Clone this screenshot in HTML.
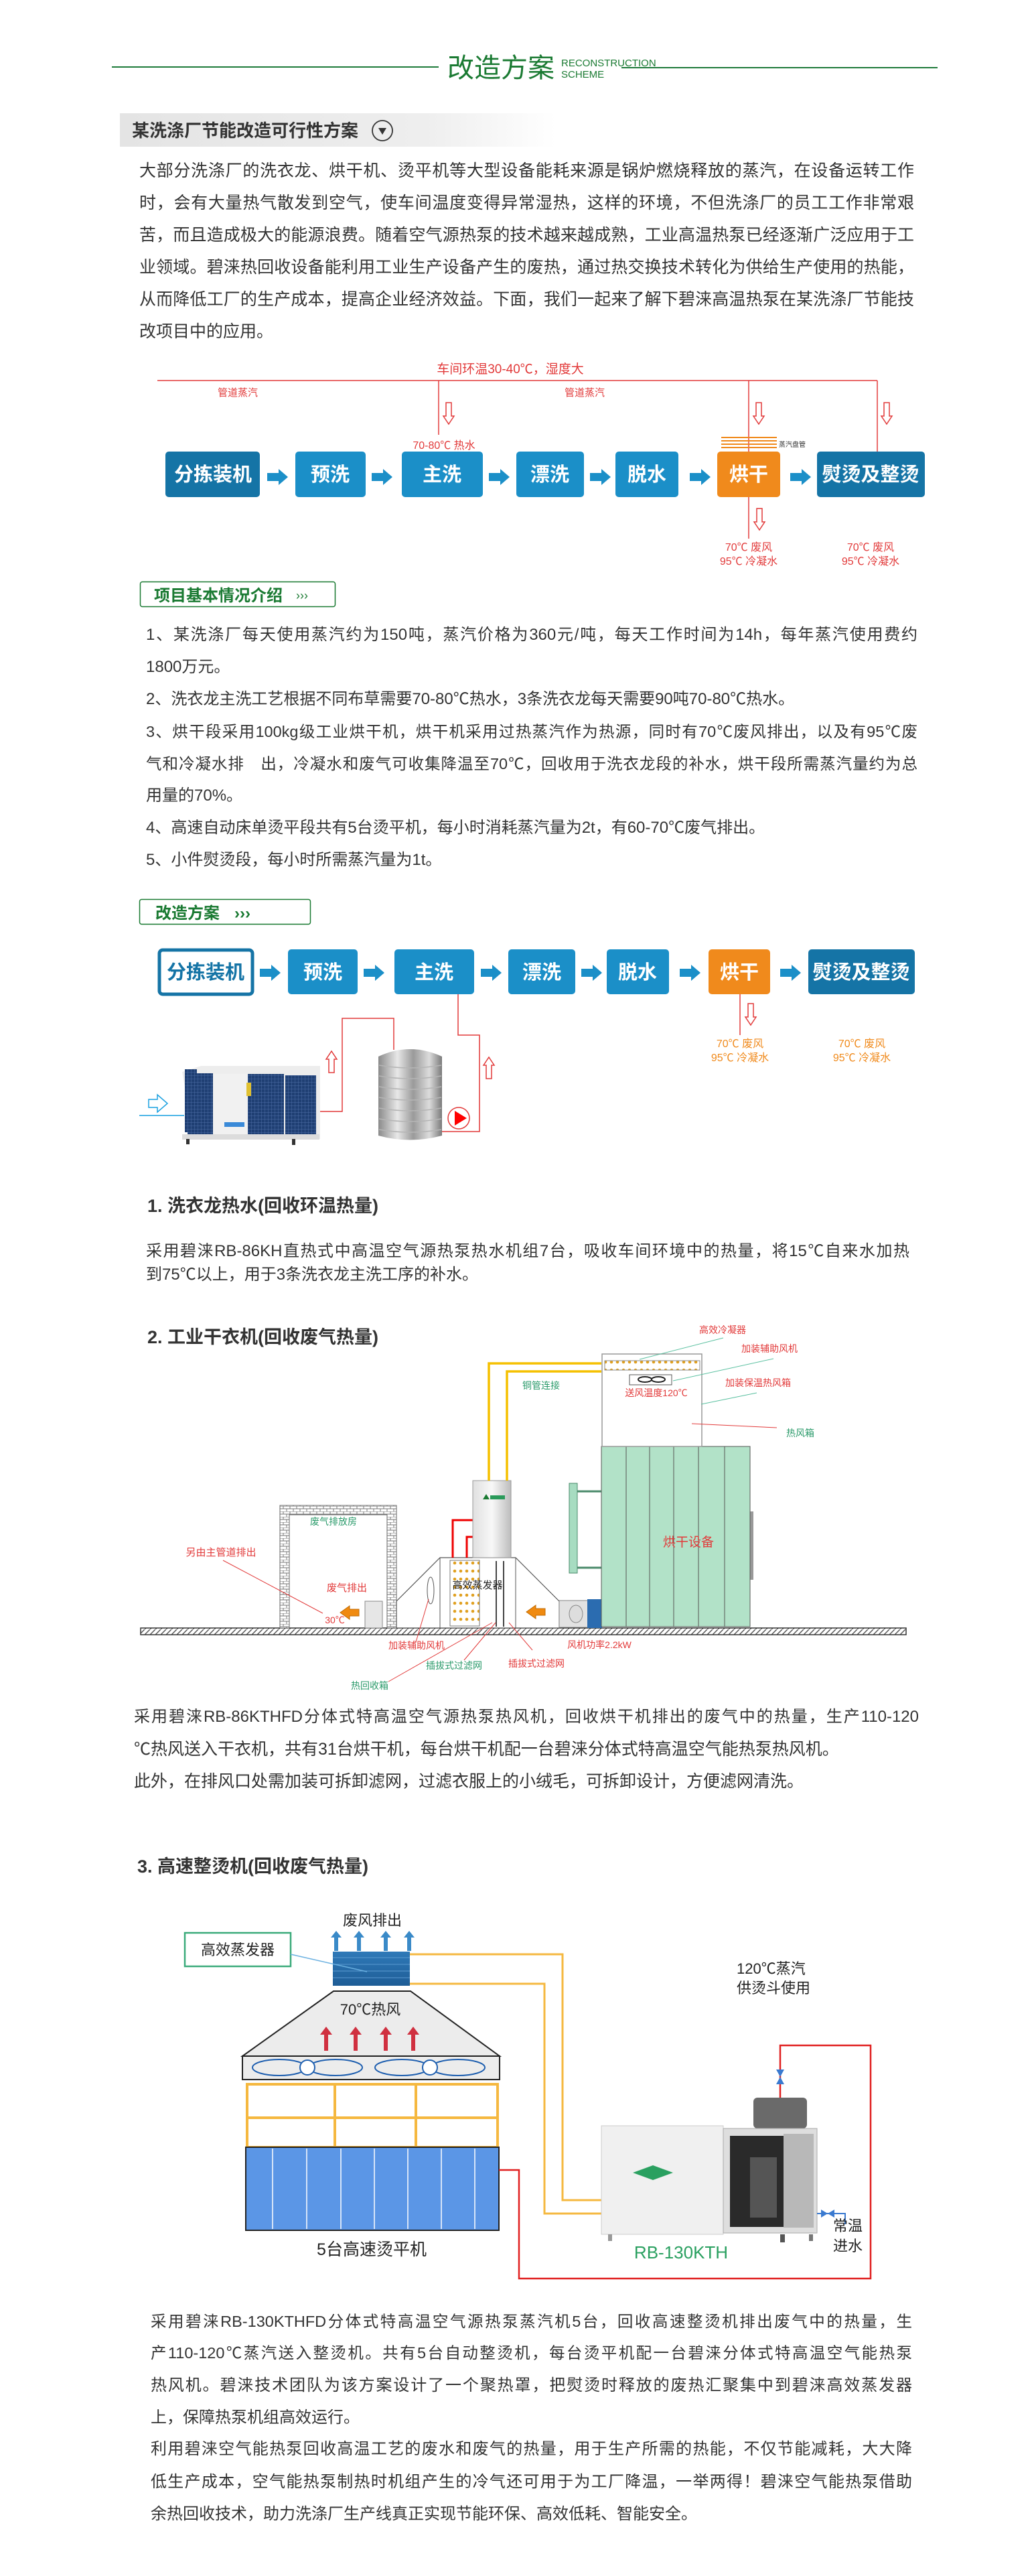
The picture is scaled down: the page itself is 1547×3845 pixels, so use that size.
<!DOCTYPE html>
<html><head><meta charset="utf-8">
<style>
html,body{margin:0;padding:0;background:#fff;}
body{width:1547px;height:3845px;position:relative;overflow:hidden;font-family:"Liberation Sans","Noto Sans CJK SC",sans-serif;color:#333;}
.l{position:absolute;white-space:nowrap;line-height:30px;height:30px;}
.j{text-align:justify;text-align-last:justify;white-space:normal;}
.p25{font-size:25px;}
.p24{font-size:24px;}
.p23{font-size:23.5px;}
.h{position:absolute;font-weight:bold;font-size:27px;color:#333;line-height:34px;white-space:nowrap;}
svg{position:absolute;left:0;top:0;}
</style></head><body>
<svg width="1547" height="3845" viewBox="0 0 1547 3845" font-family="Liberation Sans, Noto Sans CJK SC, sans-serif">
<defs>
<linearGradient id="gb" x1="0" x2="1" y1="0" y2="0"><stop offset="0" stop-color="#e4e4e4"/><stop offset="0.7" stop-color="#eeeeee"/><stop offset="1" stop-color="#ffffff"/></linearGradient>
<linearGradient id="tank" x1="0" x2="1"><stop offset="0" stop-color="#8a8a8a"/><stop offset="0.3" stop-color="#e8e8e8"/><stop offset="0.55" stop-color="#9a9a9a"/><stop offset="0.8" stop-color="#dcdcdc"/><stop offset="1" stop-color="#7a7a7a"/></linearGradient>
<linearGradient id="ev" x1="0" x2="1"><stop offset="0" stop-color="#e0e0e0"/><stop offset="0.5" stop-color="#f8f8f8"/><stop offset="1" stop-color="#bdbdbd"/></linearGradient>
<linearGradient id="coil" x1="0" x2="0" y1="0" y2="1"><stop offset="0" stop-color="#2f79b8"/><stop offset="1" stop-color="#1e5d96"/></linearGradient>
<pattern id="hatch" width="8" height="8" patternUnits="userSpaceOnUse"><rect width="8" height="8" fill="#fff"/><path d="M0 8 L8 0" stroke="#555" stroke-width="1.5"/></pattern>
<pattern id="brick" width="10" height="8" patternUnits="userSpaceOnUse"><rect width="10" height="8" fill="#fff"/><path d="M0 0H10M0 4H10M3 0V4M8 4V8" stroke="#777" stroke-width="1"/></pattern>
<pattern id="grill" width="5" height="5" patternUnits="userSpaceOnUse"><rect width="5" height="5" fill="#1f3f73"/><path d="M0 0H5M0 0V5" stroke="#4c6ea6" stroke-width="1"/></pattern>
<pattern id="dots" width="9" height="12" patternUnits="userSpaceOnUse"><rect width="9" height="12" fill="#fff"/><circle cx="4" cy="5" r="2.3" fill="#e0a020"/></pattern>
<g id="barr"><path d="M0 -6 H17 V-12 L31 0 L17 12 V6 H0 Z" fill="#1b8fc8"/></g>
<g id="hd"><path d="M-4 0 H4 V20 H8 L0 32 L-8 20 H-4 Z" fill="#fff" stroke="#e23a3a" stroke-width="1.5"/></g>
<g id="hu"><path d="M-4 0 H4 V-20 H8 L0 -32 L-8 -20 H-4 Z" fill="#fff" stroke="#e23a3a" stroke-width="1.5"/></g>
<g id="oarr"><path d="M14 -5 H0 V-10 L-14 0 L0 10 V5 H14 Z" fill="#f08a10" stroke="#c06a00" stroke-width="1"/></g>
</defs>

<line x1="167" y1="100" x2="655" y2="100" stroke="#1e7a3a" stroke-width="2"/>
<line x1="928" y1="101" x2="1400" y2="101" stroke="#1e7a3a" stroke-width="2"/>
<text x="668" y="115" font-size="40" fill="#1a7a32">改造方案</text>
<text x="838" y="99" font-size="15" fill="#1a7a32">RECONSTRUCTION</text>
<text x="838" y="116" font-size="15" fill="#1a7a32">SCHEME</text>

<rect x="179" y="169" width="651" height="50" fill="url(#gb)"/>
<text x="197" y="204" font-size="26" font-weight="bold" fill="#333">某洗涤厂节能改造可行性方案</text>
<ellipse cx="571" cy="195" rx="15" ry="15" fill="none" stroke="#333" stroke-width="1.8"/>
<path d="M565 191 L577 191 L571 201 Z" fill="#333"/>

<text x="762" y="557" font-size="19" fill="#e23a3a" text-anchor="middle">车间环温30-40℃，湿度大</text>
<line x1="235" y1="568" x2="1310" y2="568" stroke="#e23a3a" stroke-width="1.5"/>
<text x="355" y="591" font-size="15" fill="#e23a3a" text-anchor="middle">管道蒸汽</text>
<text x="873" y="591" font-size="15" fill="#e23a3a" text-anchor="middle">管道蒸汽</text>
<line x1="655" y1="568" x2="655" y2="649" stroke="#e23a3a" stroke-width="1.5"/>
<line x1="1118" y1="568" x2="1118" y2="674" stroke="#e23a3a" stroke-width="1.5"/>
<line x1="1310" y1="568" x2="1310" y2="674" stroke="#e23a3a" stroke-width="1.5"/>
<use href="#hd" x="670" y="601"/><use href="#hd" x="1133" y="601"/><use href="#hd" x="1324" y="601"/>
<text x="663" y="670" font-size="16" fill="#e23a3a" text-anchor="middle">70-80℃ 热水</text>
<g stroke="#f08a1c" stroke-width="2"><line x1="1077" y1="653" x2="1160" y2="653"/><line x1="1077" y1="658" x2="1160" y2="658"/><line x1="1077" y1="663" x2="1160" y2="663"/><line x1="1077" y1="668" x2="1160" y2="668"/></g>
<text x="1163" y="667" font-size="10" fill="#333">蒸汽盘管</text>
<g font-size="29" font-weight="bold" fill="#fff" text-anchor="middle">
<rect x="247" y="674" width="141" height="68" rx="5" fill="#1574a6"/><text x="318" y="718">分拣装机</text>
<rect x="441" y="674" width="105" height="68" rx="5" fill="#1b8fc8"/><text x="493" y="718">预洗</text>
<rect x="600" y="674" width="121" height="68" rx="5" fill="#1b8fc8"/><text x="660" y="718">主洗</text>
<rect x="771" y="674" width="101" height="68" rx="5" fill="#1b8fc8"/><text x="821" y="718">漂洗</text>
<rect x="919" y="674" width="94" height="68" rx="5" fill="#1b8fc8"/><text x="966" y="718">脱水</text>
<rect x="1071" y="674" width="94" height="68" rx="5" fill="#f08a1c"/><text x="1118" y="718">烘干</text>
<rect x="1220" y="674" width="161" height="68" rx="5" fill="#1574a6"/><text x="1300" y="718">熨烫及整烫</text>
</g>
<use href="#barr" x="399" y="712"/><use href="#barr" x="555" y="712"/><use href="#barr" x="730" y="712"/><use href="#barr" x="881" y="712"/><use href="#barr" x="1030" y="712"/><use href="#barr" x="1180" y="712"/>
<line x1="1118" y1="742" x2="1118" y2="804" stroke="#e23a3a" stroke-width="1.5"/>
<use href="#hd" x="1134" y="759"/>
<g font-size="16" fill="#e23a3a" text-anchor="middle">
<text x="1118" y="822">70℃ 废风</text><text x="1118" y="843">95℃ 冷凝水</text>
<text x="1300" y="822">70℃ 废风</text><text x="1300" y="843">95℃ 冷凝水</text>
</g>

<rect x="209.5" y="868.5" width="291" height="37" rx="3" fill="#fff" stroke="#1a7a32" stroke-width="1.5"/>
<text x="230" y="897" font-size="24" font-weight="bold" fill="#1a7a32">项目基本情况介绍</text>
<text x="442" y="895" font-size="18" fill="#1a7a32">›››</text>

<rect x="208.5" y="1342.5" width="255" height="37" rx="3" fill="#fff" stroke="#1a7a32" stroke-width="1.5"/>
<text x="232" y="1371" font-size="24" font-weight="bold" fill="#1a7a32">改造方案</text>
<text x="350" y="1371" font-size="24" font-weight="bold" fill="#1a7a32">›››</text>

<g font-size="29" font-weight="bold" fill="#fff" text-anchor="middle">
<rect x="238" y="1418" width="139" height="66" rx="5" fill="#fff" stroke="#1574a6" stroke-width="5"/><text x="307" y="1461" fill="#1574a6">分拣装机</text>
<rect x="430" y="1417" width="104" height="67" rx="5" fill="#1b8fc8"/><text x="482" y="1461">预洗</text>
<rect x="589" y="1417" width="119" height="67" rx="5" fill="#1b8fc8"/><text x="648" y="1461">主洗</text>
<rect x="759" y="1417" width="100" height="67" rx="5" fill="#1b8fc8"/><text x="809" y="1461">漂洗</text>
<rect x="906" y="1417" width="93" height="67" rx="5" fill="#1b8fc8"/><text x="952" y="1461">脱水</text>
<rect x="1058" y="1417" width="92" height="67" rx="5" fill="#f08a1c"/><text x="1104" y="1461">烘干</text>
<rect x="1207" y="1417" width="159" height="67" rx="5" fill="#1574a6"/><text x="1286" y="1461">熨烫及整烫</text>
</g>
<use href="#barr" x="388" y="1452"/><use href="#barr" x="543" y="1452"/><use href="#barr" x="718" y="1452"/><use href="#barr" x="868" y="1452"/><use href="#barr" x="1015" y="1452"/><use href="#barr" x="1165" y="1452"/>
<line x1="1105" y1="1484" x2="1105" y2="1545" stroke="#e23a3a" stroke-width="1.5"/>
<use href="#hd" x="1121" y="1498"/>
<g font-size="16" fill="#f08a1c" text-anchor="middle">
<text x="1105" y="1563">70℃ 废风</text><text x="1105" y="1584">95℃ 冷凝水</text>
<text x="1287" y="1563">70℃ 废风</text><text x="1287" y="1584">95℃ 冷凝水</text>
</g>
<polyline points="684,1484 684,1545 716,1545 716,1689 660,1689" fill="none" stroke="#e23a3a" stroke-width="1.5"/>
<polyline points="478,1659 511,1659 511,1520 588,1520 588,1567" fill="none" stroke="#e23a3a" stroke-width="1.5"/>
<use href="#hu" x="495" y="1601"/><use href="#hu" x="730" y="1610"/>
<line x1="208" y1="1665" x2="275" y2="1665" stroke="#1aa0e0" stroke-width="1.5"/>
<path d="M222 1641 H235 V1634 L250 1647 L235 1660 V1653 H222 Z" fill="#fff" stroke="#1aa0e0" stroke-width="1.5"/>
<path d="M272 1600 L300 1591 L478 1591 L478 1700 L290 1700 Z" fill="#ededed"/>
<rect x="276" y="1596" width="18" height="94" fill="url(#grill)"/>
<rect x="280" y="1602" width="38" height="92" fill="url(#grill)"/>
<rect x="318" y="1603" width="52" height="90" fill="#f1f1f1"/>
<rect x="370" y="1603" width="54" height="92" fill="url(#grill)"/>
<rect x="426" y="1605" width="46" height="88" fill="url(#grill)"/>
<rect x="272" y="1693" width="205" height="8" fill="#dcdcdc"/>
<rect x="368" y="1616" width="7" height="20" fill="#e0c030"/>
<rect x="335" y="1675" width="30" height="7" fill="#3a8ad8"/>
<rect x="278" y="1700" width="5" height="8" fill="#333"/><rect x="436" y="1700" width="5" height="9" fill="#333"/>
<path d="M565 1577 Q612 1555 660 1577 L660 1695 Q612 1708 565 1695 Z" fill="url(#tank)"/>
<g stroke="#b5b5b5" stroke-width="1.5" fill="none"><path d="M566 1590 Q612 1598 659 1590"/><path d="M566 1606 Q612 1614 659 1606"/><path d="M566 1622 Q612 1630 659 1622"/><path d="M566 1638 Q612 1646 659 1638"/><path d="M566 1654 Q612 1662 659 1654"/><path d="M566 1670 Q612 1678 659 1670"/><path d="M566 1686 Q612 1694 659 1686"/></g>
<circle cx="685" cy="1669" r="16" fill="#fff" stroke="#e23a3a" stroke-width="1.5"/>
<path d="M679 1658 L697 1669 L679 1680 Z" fill="#f00"/>

<rect x="210" y="2430" width="1143" height="10" fill="url(#hatch)" stroke="#333" stroke-width="1.5"/>
<path d="M418 2430 V2247 H592 V2430 H578 V2261 H432 V2430 Z" fill="url(#brick)" stroke="#666" stroke-width="1"/>
<text x="498" y="2276" font-size="14" fill="#2a9a6a" text-anchor="middle">废气排放房</text>
<text x="330" y="2322" font-size="15" fill="#e23a3a" text-anchor="middle">另由主管道排出</text>
<line x1="333" y1="2329" x2="482" y2="2408" stroke="#e23a3a" stroke-width="1"/>
<text x="518" y="2375" font-size="15" fill="#e23a3a" text-anchor="middle">废气排出</text>
<text x="500" y="2423" font-size="14" fill="#e23a3a" text-anchor="middle">30℃</text>
<use href="#oarr" x="522" y="2407"/>
<rect x="545" y="2390" width="26" height="40" fill="#e6e6e6" stroke="#888"/>
<use href="#oarr" x="614" y="2407"/>
<path d="M592 2430 L592 2390 L657 2325 L770 2325 L835 2390 L835 2430 Z" fill="#fff" stroke="#555" stroke-width="1.2"/>
<line x1="657" y1="2325" x2="657" y2="2430" stroke="#555"/>
<line x1="770" y1="2325" x2="770" y2="2430" stroke="#555"/>
<rect x="672" y="2329" width="44" height="98" fill="url(#dots)" stroke="#777"/>
<line x1="741" y1="2330" x2="741" y2="2428" stroke="#444" stroke-width="2"/>
<line x1="752" y1="2330" x2="752" y2="2428" stroke="#444" stroke-width="2"/>
<ellipse cx="643" cy="2374" rx="5" ry="20" fill="none" stroke="#555"/>
<text x="713" y="2371" font-size="15" fill="#222" text-anchor="middle">高效蒸发器</text>
<use href="#oarr" x="800" y="2406"/>
<rect x="835" y="2389" width="45" height="40" fill="#e2e2e2" stroke="#888"/>
<rect x="877" y="2387" width="22" height="43" fill="#2b6cb0"/>
<ellipse cx="860" cy="2409" rx="10" ry="13" fill="#ddd" stroke="#888"/>
<polyline points="676,2325 676,2269 706,2269" fill="none" stroke="#e00" stroke-width="3"/>
<polyline points="697,2325 697,2294 706,2294" fill="none" stroke="#e00" stroke-width="3"/>
<rect x="706" y="2210" width="57" height="115" fill="url(#ev)" stroke="#999"/>
<path d="M721 2238 L726 2230 L731 2238 Z" fill="#1a7a32"/><rect x="732" y="2232" width="22" height="6" fill="#2a9a5a"/>
<polyline points="730,2210 730,2035 898,2035" fill="none" stroke="#f5c000" stroke-width="3.5"/>
<polyline points="757,2210 757,2047 898,2047" fill="none" stroke="#f5c000" stroke-width="3.5"/>
<text x="808" y="2073" font-size="14" fill="#2a9a6a" text-anchor="middle">铜管连接</text>
<rect x="850" y="2214" width="12" height="134" fill="#a7dcc1" stroke="#4a8a6a"/>
<line x1="862" y1="2226" x2="898" y2="2226" stroke="#4a8a6a" stroke-width="3"/>
<line x1="862" y1="2340" x2="898" y2="2340" stroke="#4a8a6a" stroke-width="3"/>
<rect x="1120" y="2256" width="5" height="102" fill="#999"/>
<rect x="898" y="2159" width="222" height="269" fill="#b2e2c8" stroke="#555" stroke-width="1"/>
<g stroke="#555" stroke-width="1"><line x1="935" y1="2159" x2="935" y2="2428"/><line x1="970" y1="2159" x2="970" y2="2428"/><line x1="1006" y1="2159" x2="1006" y2="2428"/><line x1="1043" y1="2159" x2="1043" y2="2428"/><line x1="1082" y1="2159" x2="1082" y2="2428"/></g>
<text x="1028" y="2308" font-size="19" fill="#e23a3a" text-anchor="middle">烘干设备</text>
<rect x="899" y="2021" width="149" height="138" fill="#fff" stroke="#999" stroke-width="1.5"/>
<rect x="903" y="2031" width="142" height="14" fill="url(#dots)" stroke="#888"/>
<rect x="940" y="2052" width="63" height="15" fill="#fff" stroke="#555"/>
<ellipse cx="963" cy="2059" rx="10" ry="4" fill="none" stroke="#222" stroke-width="2"/><ellipse cx="983" cy="2059" rx="10" ry="4" fill="none" stroke="#222" stroke-width="2"/>
<text x="980" y="2084" font-size="14" fill="#e23a3a" text-anchor="middle">送风温度120℃</text>
<text x="1079" y="1990" font-size="14" fill="#e23a3a" text-anchor="middle">高效冷凝器</text>
<text x="1149" y="2018" font-size="14" fill="#e23a3a" text-anchor="middle">加装辅助风机</text>
<text x="1132" y="2069" font-size="14" fill="#e23a3a" text-anchor="middle">加装保温热风箱</text>
<text x="1195" y="2144" font-size="14" fill="#2a9a6a" text-anchor="middle">热风箱</text>
<g stroke="#5ac0a0" stroke-width="1"><line x1="1080" y1="1997" x2="955" y2="2029"/><line x1="1155" y1="2028" x2="1005" y2="2061"/><line x1="1130" y1="2079" x2="1047" y2="2096"/></g>
<line x1="1160" y1="2131" x2="1033" y2="2125" stroke="#e23a3a" stroke-width="1"/>
<g stroke="#e23a3a" stroke-width="1"><line x1="621" y1="2451" x2="640" y2="2387"/><line x1="580" y1="2510" x2="735" y2="2422"/><line x1="693" y1="2478" x2="740" y2="2422"/><line x1="795" y1="2463" x2="760" y2="2422"/></g>
<text x="622" y="2461" font-size="14" fill="#e23a3a" text-anchor="middle">加装辅助风机</text>
<text x="895" y="2460" font-size="14" fill="#e23a3a" text-anchor="middle">风机功率2.2kW</text>
<text x="678" y="2491" font-size="14" fill="#2a9a6a" text-anchor="middle">插拔式过滤网</text>
<text x="801" y="2488" font-size="14" fill="#e23a3a" text-anchor="middle">插拔式过滤网</text>
<text x="552" y="2521" font-size="14" fill="#2a9a6a" text-anchor="middle">热回收箱</text>

<text x="556" y="2874" font-size="22" fill="#222" text-anchor="middle">废风排出</text>
<g fill="#3a8ac8"><path d="M499 2912 h6 v-20 h5 l-8 -10 l-8 10 h5 z"/><path d="M533 2912 h6 v-20 h5 l-8 -10 l-8 10 h5 z"/><path d="M573 2912 h6 v-20 h5 l-8 -10 l-8 10 h5 z"/><path d="M608 2912 h6 v-20 h5 l-8 -10 l-8 10 h5 z"/></g>
<rect x="276" y="2885" width="158" height="50" fill="#fff" stroke="#3aaa7a" stroke-width="2.5"/>
<text x="355" y="2918" font-size="22" fill="#222" text-anchor="middle">高效蒸发器</text>
<rect x="497" y="2913" width="115" height="51" fill="url(#coil)"/>
<g stroke="#5a9ad0" stroke-width="1"><line x1="497" y1="2922" x2="612" y2="2922"/><line x1="497" y1="2932" x2="612" y2="2932"/><line x1="497" y1="2942" x2="612" y2="2942"/><line x1="497" y1="2952" x2="612" y2="2952"/></g>
<line x1="434" y1="2917" x2="548" y2="2943" stroke="#6ab0e0" stroke-width="1.5"/>
<polyline points="612,2917 840,2917 840,3284 898,3284" fill="none" stroke="#f5b840" stroke-width="3"/>
<polyline points="612,2961 813,2961 813,3304 898,3304" fill="none" stroke="#f5b840" stroke-width="3"/>
<path d="M498 2972 L613 2972 L746 3069 L362 3069 Z" fill="#ececec" stroke="#222" stroke-width="2"/>
<text x="553" y="3007" font-size="22" fill="#222" text-anchor="middle">70℃热风</text>
<g fill="#d03040"><path d="M484 3061 h6 v-24 h6 l-9 -12 l-9 12 h6 z"/><path d="M528 3061 h6 v-24 h6 l-9 -12 l-9 12 h6 z"/><path d="M573 3061 h6 v-24 h6 l-9 -12 l-9 12 h6 z"/><path d="M614 3061 h6 v-24 h6 l-9 -12 l-9 12 h6 z"/></g>
<rect x="362" y="3069" width="384" height="35" fill="#ececec" stroke="#222" stroke-width="2"/>
<g fill="none" stroke="#2060b0" stroke-width="2"><ellipse cx="417" cy="3086" rx="40" ry="12"/><ellipse cx="501" cy="3086" rx="40" ry="12"/><circle cx="459" cy="3086" r="11" fill="#fff"/><ellipse cx="600" cy="3086" rx="40" ry="12"/><ellipse cx="684" cy="3086" rx="40" ry="12"/><circle cx="642" cy="3086" r="11" fill="#fff"/></g>
<g stroke="#f5b840" stroke-width="4" fill="none"><rect x="369" y="3111" width="374" height="94"/><line x1="369" y1="3161" x2="743" y2="3161"/><line x1="500" y1="3111" x2="500" y2="3205"/><line x1="621" y1="3111" x2="621" y2="3205"/></g>
<rect x="367" y="3205" width="378" height="124" fill="#5b96e6" stroke="#222" stroke-width="2"/>
<g stroke="#fff" stroke-width="1.5"><line x1="407" y1="3207" x2="407" y2="3327"/><line x1="458" y1="3207" x2="458" y2="3327"/><line x1="509" y1="3207" x2="509" y2="3327"/><line x1="559" y1="3207" x2="559" y2="3327"/><line x1="609" y1="3207" x2="609" y2="3327"/><line x1="659" y1="3207" x2="659" y2="3327"/><line x1="709" y1="3207" x2="709" y2="3327"/></g>
<text x="555" y="3366" font-size="25" fill="#222" text-anchor="middle">5台高速烫平机</text>
<polyline points="745,3239 775,3239 775,3401 1300,3401 1300,3053 1165,3053 1165,3131" fill="none" stroke="#e02020" stroke-width="2.5"/>
<path d="M1159 3089 L1171 3089 L1165 3100 Z M1159 3111 L1171 3111 L1165 3100 Z" fill="#3a7ad0"/>
<text x="1100" y="2946" font-size="22" fill="#222">120℃蒸汽</text>
<text x="1100" y="2975" font-size="22" fill="#222">供烫斗使用</text>
<rect x="1125" y="3131" width="80" height="46" rx="6" fill="#6a6a6a"/>
<rect x="898" y="3173" width="182" height="162" fill="#f0f0f0" stroke="#ccc"/>
<rect x="1080" y="3177" width="140" height="156" fill="#dedede" stroke="#aaa"/>
<rect x="1090" y="3188" width="80" height="136" fill="#2a2a2a"/>
<rect x="1170" y="3185" width="45" height="140" fill="#b8b8b8"/>
<rect x="1120" y="3220" width="40" height="90" fill="#555"/>
<rect x="908" y="3335" width="6" height="10" fill="#999"/><rect x="1165" y="3335" width="7" height="12" fill="#555"/><rect x="1208" y="3335" width="6" height="10" fill="#777"/>
<path d="M945 3243 L975 3232 L1005 3243 L975 3254 Z" fill="#2aa060"/>
<polyline points="1220,3304 1262,3304 1262,3320" fill="none" stroke="#3a7ad0" stroke-width="2"/>
<path d="M1226 3298 L1236 3304 L1226 3310 Z M1246 3298 L1236 3304 L1246 3310 Z" fill="#3a7ad0"/>
<text x="1017" y="3371" font-size="26" fill="#2aa060" text-anchor="middle">RB-130KTH</text>
<text x="1244" y="3330" font-size="22" fill="#222">常温</text>
<text x="1244" y="3360" font-size="22" fill="#222">进水</text>
</svg>

<div class="l p25 j" style="left:208px;top:240px;width:1157px">大部分洗涤厂的洗衣龙、烘干机、烫平机等大型设备能耗来源是锅炉燃烧释放的蒸汽，在设备运转工作</div>
<div class="l p25 j" style="left:208px;top:288px;width:1157px">时，会有大量热气散发到空气，使车间温度变得异常湿热，这样的环境，不但洗涤厂的员工工作非常艰</div>
<div class="l p25 j" style="left:208px;top:336px;width:1157px">苦，而且造成极大的能源浪费。随着空气源热泵的技术越来越成熟，工业高温热泵已经逐渐广泛应用于工</div>
<div class="l p25 j" style="left:208px;top:384px;width:1157px">业领域。碧涞热回收设备能利用工业生产设备产生的废热，通过热交换技术转化为供给生产使用的热能，</div>
<div class="l p25 j" style="left:208px;top:432px;width:1157px">从而降低工厂的生产成本，提高企业经济效益。下面，我们一起来了解下碧涞高温热泵在某洗涤厂节能技</div>
<div class="l p25" style="left:208px;top:480px">改项目中的应用。</div>

<div class="l p24 j" style="left:218px;top:933px;width:1152px">1、某洗涤厂每天使用蒸汽约为150吨，蒸汽价格为360元/吨，每天工作时间为14h，每年蒸汽使用费约</div>
<div class="l p24" style="left:218px;top:981px">1800万元。</div>
<div class="l p24" style="left:218px;top:1029px">2、洗衣龙主洗工艺根据不同布草需要70-80℃热水，3条洗衣龙每天需要90吨70-80℃热水。</div>
<div class="l p23 j" style="left:218px;top:1077px;width:1152px">3、烘干段采用100kg级工业烘干机，烘干机采用过热蒸汽作为热源，同时有70℃废风排出，以及有95℃废</div>
<div class="l p23 j" style="left:218px;top:1125px;width:1152px">气和冷凝水排　出，冷凝水和废气可收集降温至70℃，回收用于洗衣龙段的补水，烘干段所需蒸汽量约为总</div>
<div class="l p24" style="left:218px;top:1173px">用量的70%。</div>
<div class="l p24" style="left:218px;top:1221px">4、高速自动床单烫平段共有5台烫平机，每小时消耗蒸汽量为2t，有60-70℃废气排出。</div>
<div class="l p24" style="left:218px;top:1269px">5、小件熨烫段，每小时所需蒸汽量为1t。</div>

<div class="h" style="left:220px;top:1783px">1. 洗衣龙热水(回收环温热量)</div>
<div class="l p24 j" style="left:218px;top:1853px;width:1140px">采用碧涞RB-86KH直热式中高温空气源热泵热水机组7台，吸收车间环境中的热量，将15℃自来水加热</div>
<div class="l p24" style="left:218px;top:1888px">到75℃以上，用于3条洗衣龙主洗工序的补水。</div>

<div class="h" style="left:220px;top:1979px">2. 工业干衣机(回收废气热量)</div>
<div class="l p24 j" style="left:200px;top:2548px;width:1172px">采用碧涞RB-86KTHFD分体式特高温空气源热泵热风机，回收烘干机排出的废气中的热量，生产110-120</div>
<div class="l p25" style="left:200px;top:2596px">℃热风送入干衣机，共有31台烘干机，每台烘干机配一台碧涞分体式特高温空气能热泵热风机。</div>
<div class="l p25" style="left:200px;top:2644px">此外，在排风口处需加装可拆卸滤网，过滤衣服上的小绒毛，可拆卸设计，方便滤网清洗。</div>

<div class="h" style="left:205px;top:2769px">3. 高速整烫机(回收废气热量)</div>
<div class="l p23 j" style="left:225px;top:3450px;width:1137px">采用碧涞RB-130KTHFD分体式特高温空气源热泵蒸汽机5台，回收高速整烫机排出废气中的热量，生</div>
<div class="l p23 j" style="left:225px;top:3497px;width:1137px">产110-120℃蒸汽送入整烫机。共有5台自动整烫机，每台烫平机配一台碧涞分体式特高温空气能热泵</div>
<div class="l p24 j" style="left:225px;top:3546px;width:1137px">热风机。碧涞技术团队为该方案设计了一个聚热罩，把熨烫时释放的废热汇聚集中到碧涞高效蒸发器</div>
<div class="l p24" style="left:225px;top:3594px">上，保障热泵机组高效运行。</div>
<div class="l p24 j" style="left:225px;top:3641px;width:1137px">利用碧涞空气能热泵回收高温工艺的废水和废气的热量，用于生产所需的热能，不仅节能减耗，大大降</div>
<div class="l p24 j" style="left:225px;top:3690px;width:1137px">低生产成本，空气能热泵制热时机组产生的冷气还可用于为工厂降温，一举两得！碧涞空气能热泵借助</div>
<div class="l p24" style="left:225px;top:3738px">余热回收技术，助力洗涤厂生产线真正实现节能环保、高效低耗、智能安全。</div>
</body></html>
